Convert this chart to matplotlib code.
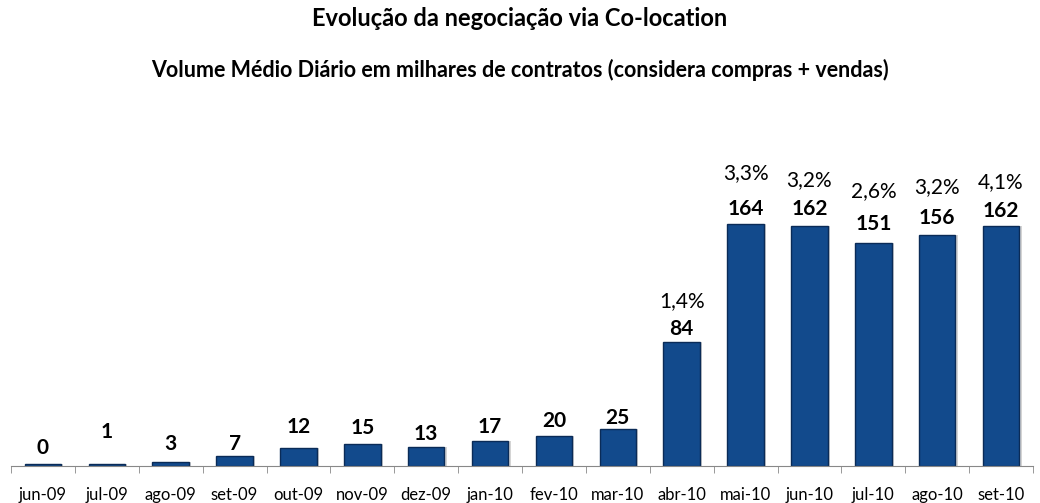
import numpy as np
import matplotlib.pyplot as plt

# dados do grafico
meses = ['jun-09', 'jul-09', 'ago-09', 'set-09', 'out-09', 'nov-09', 'dez-09', 'jan-10',
         'fev-10', 'mar-10', 'abr-10', 'mai-10', 'jun-10', 'jul-10', 'ago-10', 'set-10']
volume = [0, 1, 3, 7, 12, 15, 13, 17, 20, 25, 84, 164, 162, 151, 156, 162]
participacao = [None, None, None, None, None, None, None, None,
                None, None, '1,4%', '3,3%', '3,2%', '2,6%', '3,2%', '4,1%']

# deslocamento dos rotulos (pixels acima da barra), como no original do Excel
desl_valor = [16, 32, 18, 12, 21, 16, 13, 14, 15, 11, 13, 15, 17, 19, 17, 15]
desl_pct = [0, 0, 0, 0, 0, 0, 0, 0, 0, 0, 28, 35, 29, 33, 31, 29]

plt.rcParams['font.family'] = ['Lato', 'DejaVu Sans']

fig = plt.figure(figsize=(10.4, 5.03), dpi=100)
ax = fig.add_axes([11 / 1040, 37 / 503, 1022 / 1040, 346 / 503])

x = np.arange(len(meses))
# altura minima para barras muito pequenas aparecerem
alturas = [max(v, 1.2) for v in volume]
ax.bar(x + 0.035, alturas, width=0.57, color='#a0a0a0', alpha=0.45, zorder=1)
ax.bar(x, alturas, width=0.57, color='#124a8c', edgecolor='#0a2b57', linewidth=1.0, zorder=2)

px = 72 / 100  # pixels -> pontos
for i, v in enumerate(volume):
    ax.annotate(str(v), (i, alturas[i]), xytext=(0, desl_valor[i] * px),
                textcoords='offset points', ha='center', va='center',
                fontsize=15, fontweight='bold', color='black')
    if participacao[i]:
        ax.annotate(participacao[i], (i, alturas[i]),
                    xytext=(0, (desl_valor[i] + desl_pct[i]) * px),
                    textcoords='offset points', ha='center', va='center',
                    fontsize=15, color='black')

ax.set_xlim(-0.5, len(meses) - 0.5)
ax.set_ylim(0, 234)
ax.set_yticks([])
ax.set_xticks(x)
ax.set_xticklabels(meses, fontsize=12)
ax.set_xticks(np.arange(len(meses) + 1) - 0.5, minor=True)
ax.tick_params(axis='x', which='major', length=0, pad=15)
ax.tick_params(axis='x', which='minor', length=5, color='#888888')
for s in ['top', 'right', 'left']:
    ax.spines[s].set_visible(False)
ax.spines['bottom'].set_color('#888888')

fig.text(0.5, 1 - 19 / 503, 'Evolução da negociação via Co-location',
         ha='center', va='center', fontsize=17, fontweight='bold')
fig.text(0.5, 1 - 70 / 503, 'Volume Médio Diário em milhares de contratos (considera compras + vendas)',
         ha='center', va='center', fontsize=15.5, fontweight='bold')

fig.savefig('out.png', dpi=100)
